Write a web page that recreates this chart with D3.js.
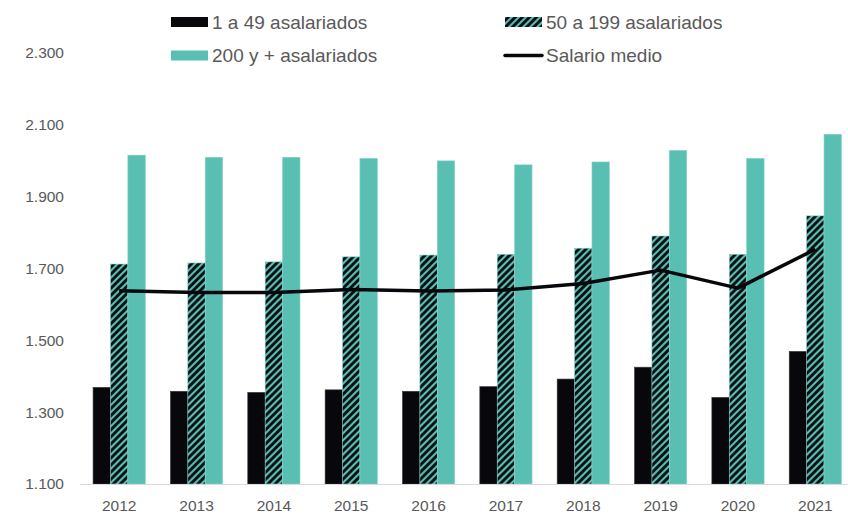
<!DOCTYPE html>
<html>
<head>
<meta charset="utf-8">
<script src="https://cdn.jsdelivr.net/npm/d3@7"></script>
<style>
  html, body { margin: 0; padding: 0; background: #fff; }
  svg { display: block; }
</style>
</head>
<body>
<script>
const years = ["2012","2013","2014","2015","2016","2017","2018","2019","2020","2021"];
const small = [1369, 1358, 1355, 1362, 1358, 1371, 1392, 1425, 1341, 1469];
const medium = [1712, 1715, 1718, 1732, 1737, 1739, 1756, 1790, 1739, 1846];
const large = [2015, 2009, 2009, 2006, 1999, 1988, 1996, 2028, 2006, 2073];
const avgSalary = [1638, 1633, 1633, 1641, 1637, 1640, 1658, 1695, 1645, 1753];
const yTicks = [1100, 1300, 1500, 1700, 1900, 2100, 2300];
const seriesNames = ["1 a 49 asalariados", "50 a 199 asalariados", "200 y + asalariados", "Salario medio"];

const W = 848, H = 516;
const TEAL = "#58bfb2", BLACK = "#08080c", TEXT = "#595959";

const svg = d3.select("body").append("svg").attr("width", W).attr("height", H);
const defs = svg.append("defs");
const pat = defs.append("pattern")
  .attr("id", "hatch").attr("patternUnits", "userSpaceOnUse")
  .attr("width", 5).attr("height", 5)
  .attr("patternTransform", "rotate(45)");
pat.append("rect").attr("width", 5).attr("height", 5).attr("fill", TEAL);
pat.append("line").attr("x1", 1.5).attr("y1", 0).attr("x2", 1.5).attr("y2", 5)
  .attr("stroke", BLACK).attr("stroke-width", 2.8);

const x = d3.scaleBand().domain(years).range([80.5, 854]).paddingInner(0.325).paddingOuter(0.1625);
const series = ["s", "m", "l"];
const xs = d3.scaleBand().domain(series).range([0, x.bandwidth()]);
const y = d3.scaleLinear().domain([1100, 2300]).range([484, 52.7]);

const loc = d3.formatLocale({decimal: ",", thousands: ".", grouping: [3], currency: ["", "€"]});
const fmt = loc.format(",.0f");

// y axis labels
const yAxis = d3.axisLeft(y).tickValues(yTicks).tickFormat(fmt).tickSize(0).tickPadding(0);
const yg = svg.append("g").attr("transform", "translate(64,0)").call(yAxis);
yg.select(".domain").remove();
yg.selectAll("text").attr("fill", TEXT).attr("font-family", "Liberation Sans, Arial, sans-serif")
  .attr("font-size", 15.5);

// bars
const groups = svg.append("g").selectAll("g").data(years).join("g")
  .attr("transform", d => `translate(${x(d)},0)`);
const fills = {s: BLACK, m: "url(#hatch)", l: TEAL};
const strokes = {s: "#3a3a3f", m: "#7fd0c6", l: "#86d3ca"};
const vals = {s: small, m: medium, l: large};
groups.selectAll("rect").data((d, i) => series.map(k => ({k, v: vals[k][i]}))).join("rect")
  .attr("x", d => xs(d.k))
  .attr("width", xs.bandwidth())
  .attr("y", d => y(d.v))
  .attr("height", d => y(1100) - y(d.v))
  .attr("fill", d => fills[d.k])
  .attr("stroke", d => strokes[d.k]).attr("stroke-width", 0.6);

// x axis
const xAxis = d3.axisBottom(x).tickSize(0).tickPadding(16);
const xg = svg.append("g").attr("transform", "translate(0,484)").call(xAxis);
xg.select(".domain").remove();
xg.append("line").attr("x1", 80).attr("x2", 848).attr("y1", 0.5).attr("y2", 0.5)
  .attr("stroke", "#d9d9d9").attr("stroke-width", 1);
xg.selectAll("text").attr("fill", TEXT).attr("font-family", "Liberation Sans, Arial, sans-serif")
  .attr("font-size", 15.5);

// line
const line = d3.line().x((d, i) => x(years[i]) + x.bandwidth() / 2).y(d => y(d));
svg.append("path").datum(avgSalary).attr("d", line)
  .attr("fill", "none").attr("stroke", BLACK).attr("stroke-width", 3.5)
  .attr("stroke-linejoin", "round");

// legend
const lg = svg.append("g").attr("font-family", "Liberation Sans, Arial, sans-serif")
  .attr("font-size", 19).attr("fill", TEXT);
const legendItems = [
  {name: seriesNames[0], x: 171, y: 22, type: "rect", fill: BLACK},
  {name: seriesNames[1], x: 505, y: 22, type: "rect", fill: "url(#hatch)"},
  {name: seriesNames[2], x: 171, y: 55.5, type: "rect", fill: TEAL},
  {name: seriesNames[3], x: 505, y: 55.5, type: "line"}
];
legendItems.forEach(it => {
  if (it.type === "rect") {
    lg.append("rect").attr("x", it.x).attr("y", it.y - 5).attr("width", 37).attr("height", 10).attr("fill", it.fill);
  } else {
    lg.append("line").attr("x1", it.x).attr("x2", it.x + 37).attr("y1", it.y).attr("y2", it.y)
      .attr("stroke", BLACK).attr("stroke-width", 3.5).attr("stroke-linecap", "round");
  }
  lg.append("text").attr("x", it.x + 41).attr("y", it.y).attr("dy", "0.35em").text(it.name);
});
</script>
</body>
</html>
